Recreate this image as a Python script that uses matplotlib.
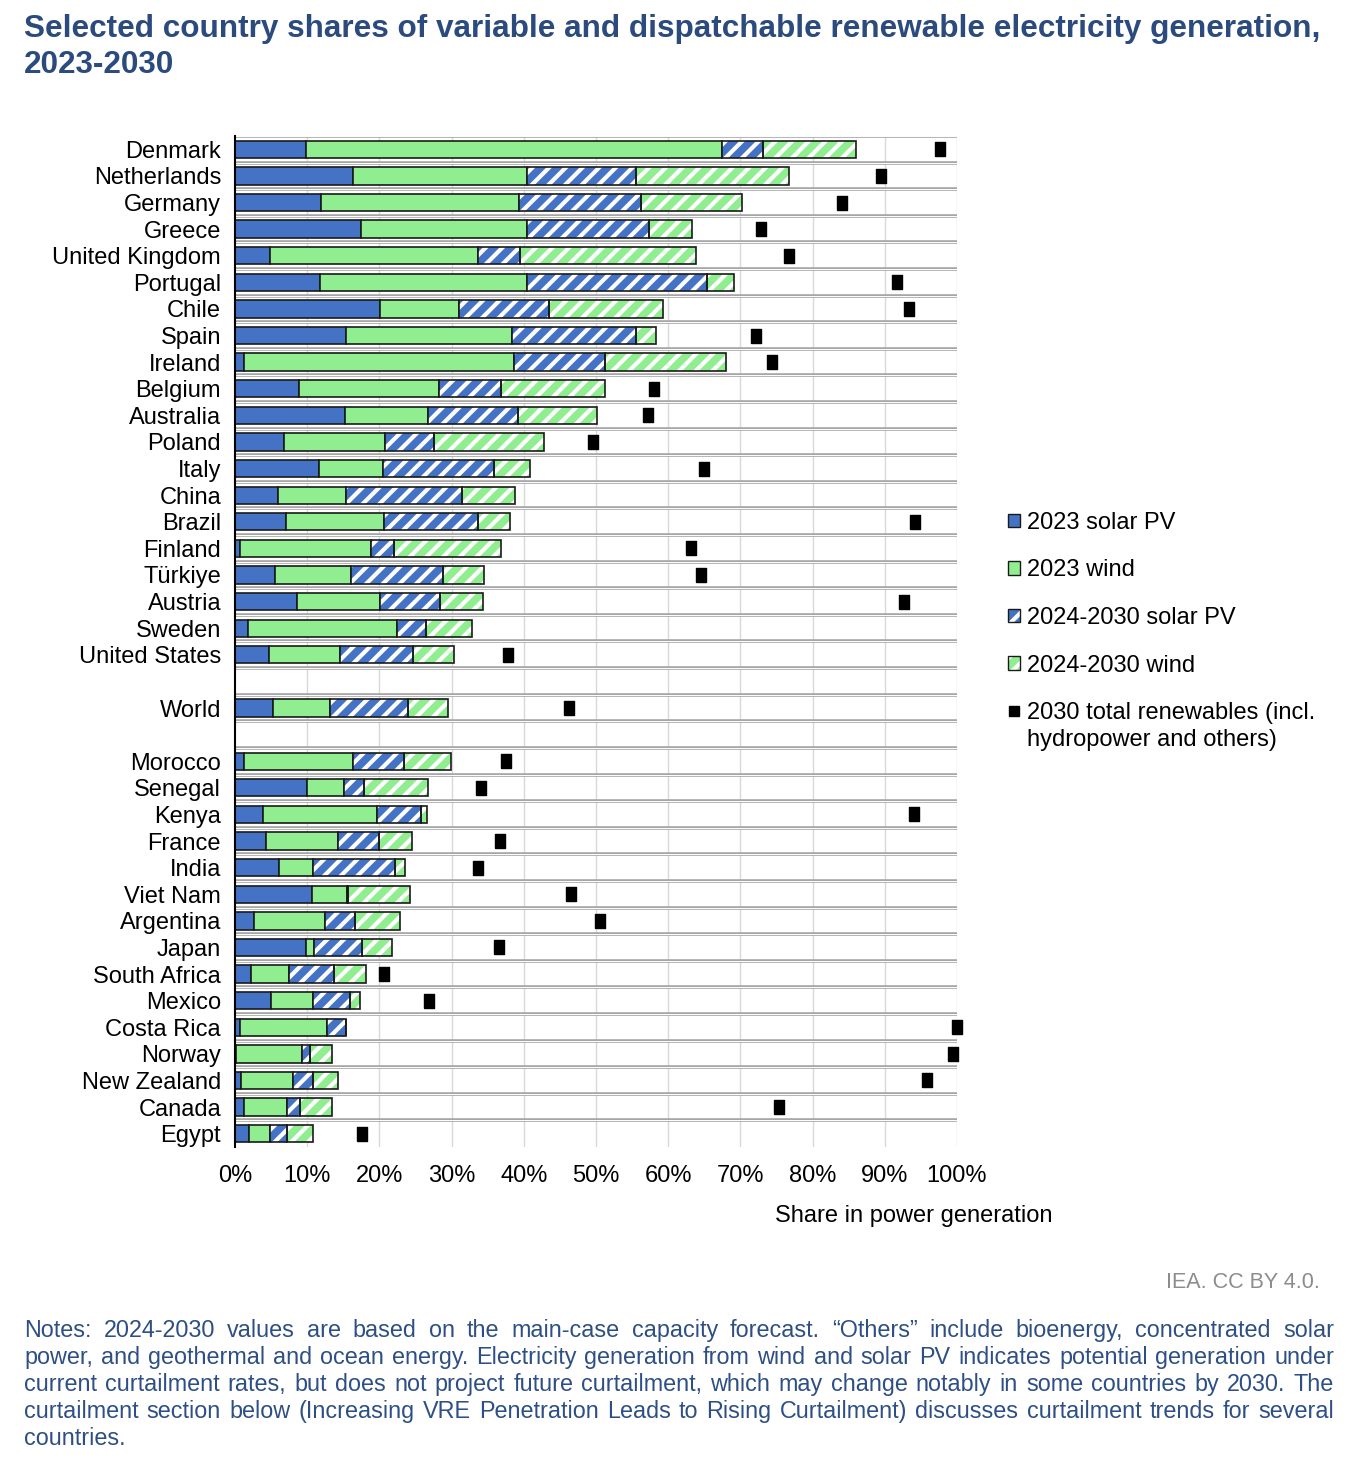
import numpy as np
import matplotlib.pyplot as plt
from matplotlib.patches import Patch
from matplotlib.lines import Line2D
from matplotlib.legend_handler import HandlerTuple

plt.rcParams['font.family'] = ['Liberation Sans', 'DejaVu Sans']
plt.rcParams['hatch.linewidth'] = 3.0

# Data (share of power generation, %)
top_countries = ['Denmark', 'Netherlands', 'Germany', 'Greece', 'United Kingdom', 'Portugal',
                 'Chile', 'Spain', 'Ireland', 'Belgium', 'Australia', 'Poland', 'Italy',
                 'China', 'Brazil', 'Finland', 'Türkiye', 'Austria', 'Sweden', 'United States']
world = ['World']
other_countries = ['Morocco', 'Senegal', 'Kenya', 'France', 'India', 'Viet Nam', 'Argentina',
                   'Japan', 'South Africa', 'Mexico', 'Costa Rica', 'Norway', 'New Zealand',
                   'Canada', 'Egypt']

solar_2023 = [9.9, 16.4, 11.9, 17.4, 4.8, 11.8, 20.1, 15.4, 1.2, 8.9, 15.2, 6.8, 11.6,
              6.0, 7.1, 0.7, 5.6, 8.6, 1.8, 4.7,
              5.3,
              1.3, 10.0, 3.9, 4.3, 6.1, 10.7, 2.6, 9.9, 2.2, 5.0, 0.7, 0.1, 0.8, 1.2, 2.0]
wind_2023 = [57.5, 24.1, 27.4, 23.1, 28.9, 28.7, 10.9, 23.0, 37.4, 19.3, 11.5, 14.0, 8.9,
             9.4, 13.6, 18.1, 10.5, 11.5, 20.6, 9.8,
             7.8,
             15.0, 5.1, 15.7, 10.0, 4.7, 4.8, 9.8, 1.1, 5.3, 5.8, 12.0, 9.2, 7.2, 6.0, 2.9]
solar_new = [5.7, 15.1, 16.9, 16.8, 5.8, 24.9, 12.5, 17.2, 12.6, 8.7, 12.5, 6.8, 15.4,
             16.0, 13.0, 3.2, 12.7, 8.3, 4.1, 10.2,
             10.8,
             7.1, 2.8, 6.1, 5.6, 11.3, 0.1, 4.2, 6.6, 6.2, 5.1, 2.7, 1.1, 2.8, 1.8, 2.3]
wind_new = [12.9, 21.1, 14.0, 6.0, 24.3, 3.7, 15.8, 2.7, 16.8, 14.3, 10.9, 15.2, 4.9,
            7.4, 4.4, 14.8, 5.7, 6.0, 6.3, 5.7,
            5.6,
            6.5, 8.9, 0.9, 4.6, 1.5, 8.7, 6.3, 4.2, 4.5, 1.4, 0.0, 3.1, 3.4, 4.5, 3.6]
total_2030 = [97.6, 89.5, 84.1, 72.8, 76.8, 91.7, 93.3, 72.1, 74.4, 58.0, 57.2, 49.6, 65.0,
              np.nan, 94.2, 63.1, 64.6, 92.7, np.nan, 37.8,
              46.3,
              37.5, 34.1, 94.1, 36.7, 33.7, 46.5, 50.5, 36.5, 20.6, 26.9, 100.0, 99.4, 95.9, 75.3, 17.6]

labels = top_countries + world + other_countries
# one empty row before and after World
ypos = np.concatenate([np.arange(len(top_countries)),
                       [len(top_countries) + 1],
                       np.arange(len(other_countries)) + len(top_countries) + 3])

blue = '#4472C4'
green = '#90EE90'

W, H = 1368, 1470
fig = plt.figure(figsize=(13.68, 14.70), dpi=100)
ax = fig.add_axes([235 / W, 1 - 1147 / H, 722 / W, 1011 / H])

# grid
ax.vlines(np.arange(10, 101, 10), -0.5, 37.5, color='#D9D9D9', lw=1, zorder=0)
hl = np.arange(-0.5, 37, 1.0)
ax.hlines(hl, 0, 100, color='#A6A6A6', lw=2.6, zorder=0.5)
ax.hlines(hl, 0, 100, color='white', lw=0.7, zorder=0.6)

h = 0.65
s1 = np.array(solar_2023)
w1 = np.array(wind_2023)
s2 = np.array(solar_new)
w2 = np.array(wind_new)

ax.barh(ypos, s1, height=h, color=blue, edgecolor='#1A1A1A', lw=1.2, zorder=2)
ax.barh(ypos, w1, left=s1, height=h, color=green, edgecolor='#1A1A1A', lw=1.2, zorder=2)
for vals, left, col in [(s2, s1 + w1, blue), (w2, s1 + w1 + s2, green)]:
    ax.barh(ypos, vals, left=left, height=h, color=col, edgecolor='white', lw=0,
            hatch='//', zorder=2)
    ax.barh(ypos, vals, left=left, height=h, fill=False, edgecolor='#1A1A1A', lw=1.2, zorder=2.1)

rect = [(-0.72, -1), (0.72, -1), (0.72, 1), (-0.72, 1), (-0.72, -1)]
ax.plot(total_2030, ypos, ls='none', marker=rect, ms=9.5, color='black', zorder=3, clip_on=False)

ax.set_xlim(0, 100)
ax.set_ylim(37.5, -0.5)
ax.set_yticks(ypos)
ax.set_yticklabels(labels, fontsize=17)
ax.set_xticks(np.arange(0, 101, 10))
ax.set_xticklabels([f'{v}%' for v in range(0, 101, 10)], fontsize=17)
ax.tick_params(axis='y', length=0, pad=10)
ax.tick_params(axis='x', length=0, pad=13)
for sp in ['top', 'right', 'bottom']:
    ax.spines[sp].set_visible(False)
ax.spines['left'].set_linewidth(1.5)
ax.spines['left'].set_zorder(4)

# legend
hatch_s = Patch(facecolor=blue, edgecolor='white', lw=0, hatch='//')
hatch_w = Patch(facecolor=green, edgecolor='white', lw=0, hatch='//')
outline = Patch(fill=False, edgecolor='#1A1A1A', lw=1.0)
handles = [Patch(facecolor=blue, edgecolor='#1A1A1A', lw=1.0),
           Patch(facecolor=green, edgecolor='#1A1A1A', lw=1.0),
           (hatch_s, outline), (hatch_w, outline),
           Line2D([], [], ls='none', marker='s', ms=7, color='black')]
leg_labels = ['2023 solar PV', '2023 wind', '2024-2030 solar PV', '2024-2030 wind',
              '2030 total renewables (incl.']
fig.legend(handles, leg_labels, loc='upper left', bbox_to_anchor=(1008 / W, 1 - 512 / H),
           frameon=False, fontsize=17, handlelength=0.5, handleheight=0.5, handletextpad=0.3,
           labelspacing=1.08, borderpad=0, borderaxespad=0,
           handler_map={tuple: HandlerTuple(ndivide=1)})
fig.text(1027 / W, 1 - 740 / H, 'hydropower and others)', fontsize=17, va='center')

title_col = '#2B4A7E'
fig.text(24 / W, 1 - 37 / H, 'Selected country shares of variable and dispatchable renewable electricity generation,',
         fontsize=22.7, fontweight='bold', color=title_col, va='baseline')
fig.text(24 / W, 1 - 73 / H, '2023-2030', fontsize=22.7, fontweight='bold', color=title_col, va='baseline')

fig.text(914 / W, 1 - 1216 / H, 'Share in power generation', fontsize=17, ha='center', va='center')
fig.text(1320 / W, 1 - 1283 / H, 'IEA. CC BY 4.0.', fontsize=15.5, ha='right', va='center', color='#8C8C8C')

notes = ['Notes: 2024-2030 values are based on the main-case capacity forecast. \u201cOthers\u201d include bioenergy, concentrated solar',
         'power, and geothermal and ocean energy. Electricity generation from wind and solar PV indicates potential generation under',
         'current curtailment rates, but does not project future curtailment, which may change notably in some countries by 2030. The',
         'curtailment section below (Increasing VRE Penetration Leads to Rising Curtailment) discusses curtailment trends for several',
         'countries.']
note_col = '#2D4F85'
note_fs = 16.8
renderer = fig.canvas.get_renderer()
x0, x1 = 24, 1334
for i, line in enumerate(notes):
    y = 1 - (1337 + 27 * i) / H
    if i == len(notes) - 1:
        fig.text(x0 / W, y, line, fontsize=note_fs, color=note_col, va='baseline')
        continue
    words = line.split(' ')
    objs = [fig.text(0, y, wd, fontsize=note_fs, color=note_col, va='baseline') for wd in words]
    widths = [o.get_window_extent(renderer).width for o in objs]
    gap = ((x1 - x0) - sum(widths)) / (len(words) - 1)
    x = x0
    for o, wd in zip(objs, widths):
        o.set_x(x / W)
        x += wd + gap

fig.savefig('out.png', dpi=100)
